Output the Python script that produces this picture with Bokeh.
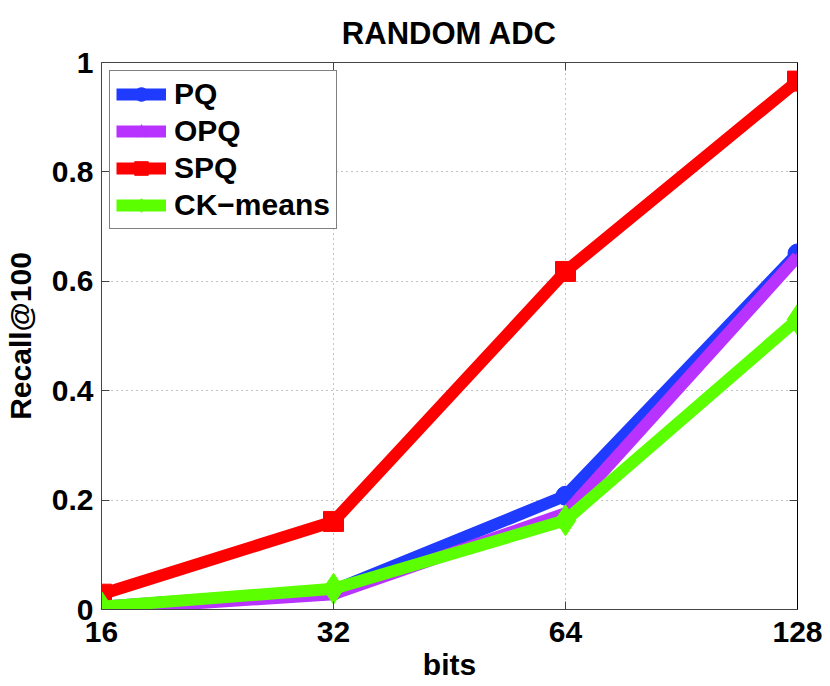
from bokeh.plotting import figure
from bokeh.models import (FixedTicker, Range1d, LinearAxis, LogAxis, Legend, LegendItem)
from bokeh.embed import file_html
from bokeh.resources import INLINE

title_text = "RANDOM ADC"
x_label = "bits"
y_label = "Recall@100"

bits = [16, 32, 64, 128]
bit_labels = ["16", "32", "64", "128"]
y_ticks = [0, 0.2, 0.4, 0.6, 0.8, 1]
y_tick_labels = ["0", "0.2", "0.4", "0.6", "0.8", "1"]

pq = [0.005, 0.035, 0.208, 0.651]
opq = [0.0, 0.028, 0.176, 0.645]
spq = [0.028, 0.161, 0.618, 0.966]
ckmeans = [0.005, 0.038, 0.163, 0.530]

FONT = "Liberation Sans"
FS = "30px"

p = figure(width=830, height=686, output_backend="svg", toolbar_location=None,
           x_axis_type="log", x_range=Range1d(bits[0], bits[-1]), y_range=Range1d(0, 1),
           min_border_left=97, min_border_right=33, min_border_top=62, min_border_bottom=77,
           title=title_text)

p.title.align = "center"
p.title.vertical_align = "middle"
p.title.text_font = FONT
p.title.text_font_size = "31px"
p.title.text_font_style = "bold"
p.title.text_color = "black"
p.title.standoff = 22

xt = FixedTicker(ticks=bits)
yt = FixedTicker(ticks=y_ticks)

p.xaxis.ticker = xt
p.yaxis.ticker = yt
p.xaxis.major_label_overrides = {b: l for b, l in zip(bits, bit_labels)}
p.yaxis.major_label_overrides = {t: l for t, l in zip(y_ticks, y_tick_labels)}
p.xgrid.ticker = xt
p.ygrid.ticker = yt

for ax in [p.xaxis[0], p.yaxis[0]]:
    ax.major_label_text_font = FONT
    ax.major_label_text_font_size = FS
    ax.major_label_text_font_style = "bold"
    ax.major_label_text_color = "black"
    ax.axis_label_text_font = FONT
    ax.axis_label_text_font_size = FS
    ax.axis_label_text_font_style = "bold"
    ax.axis_label_text_color = "black"
    ax.major_tick_in = 8
    ax.major_tick_out = 0
    ax.minor_tick_in = 0
    ax.minor_tick_out = 0
    ax.axis_line_color = "#444444"
    ax.major_tick_line_color = "#444444"

p.xaxis.axis_label = x_label
p.yaxis.axis_label = y_label
p.xaxis.major_label_standoff = 12
p.yaxis.major_label_standoff = 8
p.xaxis.axis_label_standoff = 3
p.yaxis.axis_label_standoff = 12

top = LogAxis(ticker=xt, major_label_text_font_size="0px", major_label_standoff=0,
              major_tick_in=8, major_tick_out=0,
              minor_tick_in=0, minor_tick_out=0, axis_line_color="#444444",
              major_tick_line_color="#444444")
right = LinearAxis(ticker=yt, major_label_text_font_size="0px", major_label_standoff=0,
                   major_tick_in=8, major_tick_out=0,
                   minor_tick_in=0, minor_tick_out=0, axis_line_color="black",
                   major_tick_line_color="#444444")
p.add_layout(top, "above")
p.add_layout(right, "right")

p.grid.grid_line_color = "#888888"
p.grid.grid_line_dash = "1 4"
p.grid.grid_line_width = 1
p.outline_line_color = None

LW = 12
series = [
    ("PQ", pq, "#1f3bff", "circle", 19),
    ("OPQ", opq, "#b833ff", "star", 10),
    ("SPQ", spq, "#ff0000", "square", 20),
    ("CK\u2212means", ckmeans, "#5cff00", "diamond", 31),
]
items = []
for name, vals, col, mk, sz in series:
    l = p.line(bits, vals, line_color=col, line_width=LW)
    s = p.scatter(bits, vals, marker=mk, size=sz, fill_color=col, line_color=col)
    items.append(LegendItem(label=name, renderers=[l, s]))

legend = Legend(items=items, location="top_left")
legend.label_text_font = FONT
legend.label_text_font_size = FS
legend.label_text_font_style = "bold"
legend.label_text_color = "black"
legend.glyph_width = 50
legend.glyph_height = 34
legend.label_height = 34
legend.spacing = 3
legend.padding = 6
legend.margin = 8
legend.label_standoff = 8
legend.border_line_color = "black"
legend.border_line_width = 1
legend.background_fill_alpha = 1
p.add_layout(legend, "center")

open("out.html", "w").write(file_html(p, INLINE))
